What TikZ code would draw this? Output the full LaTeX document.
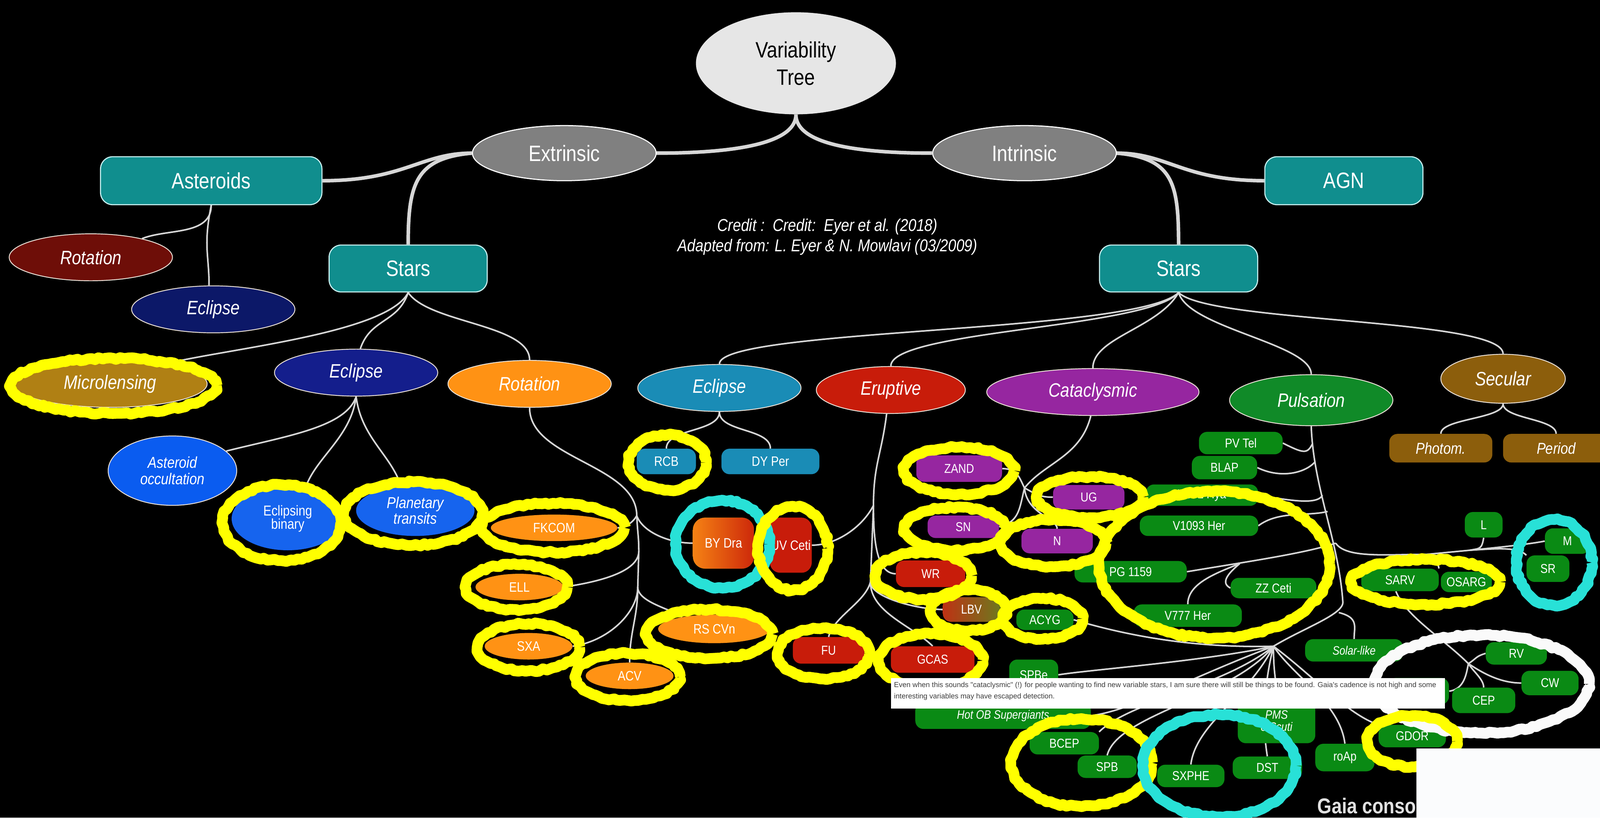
\documentclass[tikz,border=0pt]{standalone}
\usepackage{fontspec}
\setmainfont{Liberation Sans}[FakeStretch=0.85]
\newfontfamily\notefont{Liberation Sans}
\usepackage{tikz}
\usetikzlibrary{shapes.geometric, decorations.pathmorphing, backgrounds}
\definecolor{rootgray}{RGB}{230,230,230}
\definecolor{classgray}{RGB}{128,128,128}
\definecolor{groupteal}{RGB}{16,142,142}
\definecolor{groupedge}{RGB}{200,240,240}
\definecolor{linkgray}{RGB}{215,215,215}
\definecolor{typeedge}{RGB}{235,225,215}
\definecolor{astred}{RGB}{110,14,8}
\definecolor{astnavy}{RGB}{12,24,104}
\definecolor{microgold}{RGB}{176,128,20}
\definecolor{eclnavy}{RGB}{20,30,140}
\definecolor{rotorange}{RGB}{255,146,20}
\definecolor{occblue}{RGB}{10,92,240}
\definecolor{transblue}{RGB}{22,100,238}
\definecolor{ieclblue}{RGB}{26,140,182}
\definecolor{erupred}{RGB}{200,28,10}
\definecolor{catpurple}{RGB}{150,38,160}
\definecolor{pulsgreen}{RGB}{16,138,40}
\definecolor{secbrown}{RGB}{140,94,12}
\definecolor{leafgreen}{RGB}{10,138,20}
\definecolor{ringyellow}{RGB}{255,255,0}
\definecolor{ringcyan}{RGB}{40,225,215}
\definecolor{ringwhite}{RGB}{250,250,250}
\definecolor{bydraL}{RGB}{245,130,20}
\definecolor{bydraR}{RGB}{205,40,10}
\definecolor{lbvL}{RGB}{190,50,20}
\definecolor{lbvR}{RGB}{110,120,30}
\definecolor{notegray}{RGB}{60,60,60}
\definecolor{gaiagray}{RGB}{225,225,225}
\definecolor{cornerwhite}{RGB}{251,252,253}

\begin{document}
\begin{tikzpicture}[x=0.5mm, y=-0.5mm,
    link/.style={draw=linkgray, line width=2.2pt},
    mainlink/.style={draw=linkgray, line width=5pt},
    rootnode/.style={ellipse, fill=rootgray, text=black, inner sep=0pt, minimum width=98mm, minimum height=50mm, align=center, font=\fontsize{31}{38}\selectfont},
    classnode/.style={ellipse, fill=classgray, draw=white, line width=1.5pt, text=white, inner sep=0pt, minimum width=90mm, minimum height=27mm, font=\fontsize{31}{34}\selectfont},
    groupbox/.style={rectangle, rounded corners=6mm, fill=groupteal, draw=groupedge, line width=1.5pt, text=white, inner sep=0pt, minimum height=23.5mm, font=\fontsize{31}{34}\selectfont},
    typenode/.style={ellipse, draw=typeedge, line width=1.2pt, text=white, inner sep=0pt, minimum width=80mm, minimum height=23mm, font=\itshape\fontsize{27}{30}\selectfont},
    leafbox/.style={rectangle, rounded corners=4mm, fill=leafgreen, text=white, inner sep=0pt, minimum width=30mm, minimum height=11mm, font=\fontsize{18}{20}\selectfont},
    leafoval/.style={ellipse, fill=rotorange, text=white, inner sep=0pt, minimum height=13mm, font=\fontsize{19}{21}\selectfont},
    yring/.style={draw=ringyellow, line width=15pt, line join=round, decorate, decoration={random steps, segment length=5pt, amplitude=1.5pt}},
    cring/.style={yring, draw=ringcyan},
    wring/.style={yring, draw=ringwhite},
    creditnote/.style={text=white, align=center, font=\itshape\fontsize{24}{28.5}\selectfont},
]
    \useasboundingbox (0,0) rectangle (1568,801);
    \clip (0,0) rectangle (1568,801);

    % top of the tree
    \node[rootnode] (root) at (780,62) {Variability\\Tree};
    \node[classnode] (extr) at (553,150) {Extrinsic};
    \node[classnode] (intr) at (1004,150) {Intrinsic};
    \node[groupbox, minimum width=108.5mm] (aster) at (207,177) {Asteroids};
    \node[groupbox, minimum width=77.5mm] (agn) at (1317,177) {AGN};
    \node[groupbox, minimum width=77.5mm, minimum height=23mm] (starsE) at (400,263) {Stars};
    \node[groupbox, minimum width=77.5mm, minimum height=23mm] (starsI) at (1155,263) {Stars};
    \node[creditnote] (credit) at (811,232) {Credit :\ \ Credit:\ \ Eyer et al. (2018)\\Adapted from: L. Eyer \& N. Mowlavi (03/2009)};

    % asteroids
    \node[typenode, fill=astred] (astRot) at (89,252) {Rotation};
    \node[typenode, fill=astnavy] (astEcl) at (209,303) {Eclipse};

    % extrinsic stars
    \node[typenode, fill=microgold, minimum width=95mm] (micro) at (108,376) {Microlensing};
    \node[typenode, fill=eclnavy] (eclE) at (349,365) {Eclipse};
    \node[typenode, fill=rotorange] (rotE) at (519,376) {Rotation};
    \node[typenode, fill=occblue, minimum width=63mm, minimum height=34mm, align=center, font=\itshape\fontsize{22}{23}\selectfont] (occult) at (169,461) {Asteroid\\occultation};
    \node[typenode, fill=transblue, draw=none, minimum width=55mm, minimum height=31mm, align=center, font=\fontsize{20}{19}\selectfont] (ebin) at (282,508) {Eclipsing\\binary};
    \node[typenode, fill=transblue, draw=none, minimum width=58mm, minimum height=25mm, align=center, font=\itshape\fontsize{22}{20}\selectfont] (ptrans) at (407,500) {Planetary\\transits};
    \node[leafoval, minimum width=62mm] (fkcom) at (543,517) {FKCOM};
    \node[leafoval, minimum width=43mm] (ell) at (509,575) {ELL};
    \node[leafoval, minimum width=43mm] (sxa) at (518,633) {SXA};
    \node[leafoval, minimum width=43mm] (acv) at (617,662) {ACV};
    \node[leafoval, minimum width=55mm, minimum height=14mm] (rscvn) at (700,616) {RS CVn};
    \node[leafbox, rounded corners=6mm, left color=bydraL, right color=bydraR, minimum width=30mm, minimum height=25mm, font=\fontsize{19}{21}\selectfont] (bydra) at (709,532) {BY Dra};

    % intrinsic stars
    \node[typenode, fill=ieclblue] (eclI) at (705,380) {Eclipse};
    \node[typenode, fill=erupred, minimum width=73mm] (erupt) at (873,382) {Eruptive};
    \node[typenode, fill=catpurple, minimum width=104mm] (catac) at (1071,384) {Cataclysmic};
    \node[typenode, fill=pulsgreen, minimum width=80mm, minimum height=25mm] (puls) at (1285,392) {Pulsation};
    \node[typenode, fill=secbrown, minimum width=61mm, minimum height=24mm] (secul) at (1473,371) {Secular};

    \node[leafbox, fill=ieclblue, minimum width=29mm, minimum height=12.5mm, font=\fontsize{19}{21}\selectfont] (rcb) at (653,452) {RCB};
    \node[leafbox, fill=ieclblue, minimum width=48mm, minimum height=12.5mm, font=\fontsize{19}{21}\selectfont] (dyper) at (755,452) {DY Per};

    \node[leafbox, fill=erupred, rounded corners=5mm, minimum width=20.5mm, minimum height=27mm, font=\fontsize{19}{21}\selectfont] (uvceti) at (775,534) {UV Ceti};
    \node[leafbox, fill=erupred, minimum width=35mm, minimum height=13mm] (fu) at (812,637) {FU};
    \node[leafbox, fill=erupred, minimum width=41mm, minimum height=13mm] (gcas) at (914,646) {GCAS};
    \node[leafbox, fill=erupred, minimum width=34mm, minimum height=13mm] (wr) at (912,562) {WR};
    \node[leafbox, left color=lbvL, right color=lbvR, minimum width=28mm, minimum height=12mm] (lbv) at (952,597) {LBV};

    \node[leafbox, fill=catpurple, minimum width=42mm, minimum height=13mm] (zand) at (940,459) {ZAND};
    \node[leafbox, fill=catpurple, minimum width=35mm, minimum height=11mm] (sn) at (944,516) {SN};
    \node[leafbox, fill=catpurple, minimum width=35mm, minimum height=12mm] (ug) at (1067,487) {UG};
    \node[leafbox, fill=catpurple, minimum width=35mm, minimum height=12mm] (nova) at (1036,530) {N};

    % pulsating stars
    \node[leafbox, minimum width=41mm] (pvtel) at (1216,434) {PV Tel};
    \node[leafbox, minimum width=32mm, minimum height=11.5mm] (blap) at (1200,458) {BLAP};
    \node[leafbox, minimum width=55mm, minimum height=10.5mm] (v361) at (1178,485) {V361 Hya};
    \node[leafbox, minimum width=58mm, minimum height=10mm] (v1093) at (1175,515) {V1093 Her};
    \node[leafbox, minimum width=55mm, minimum height=10.5mm] (pg1159) at (1108,560) {PG 1159};
    \node[leafbox, minimum width=42mm, minimum height=10mm] (zzceti) at (1248,576) {ZZ Ceti};
    \node[leafbox, minimum width=53mm] (v777) at (1164,603) {V777 Her};
    \node[leafbox, minimum width=28mm, minimum height=10mm] (acyg) at (1024,607) {ACYG};
    \node[leafbox, minimum width=24mm, minimum height=15mm] (spbe) at (1013,661) {SPBe};
    \node[leafbox, minimum width=86mm, minimum height=13mm, font=\itshape\fontsize{17}{19}\selectfont] (hotob) at (983,701) {Hot OB Supergiants};
    \node[leafbox, minimum width=34mm] (bcep) at (1043,728) {BCEP};
    \node[leafbox, minimum width=29mm] (spb) at (1085,751) {SPB};
    \node[leafbox, minimum width=33mm] (sxphe) at (1167,760) {SXPHE};
    \node[leafbox, minimum width=34mm] (dst) at (1242,752) {DST};
    \node[leafbox, minimum width=38mm, minimum height=22mm, align=center, font=\itshape\fontsize{17}{17}\selectfont] (pms) at (1251,706) {PMS\\δ Scuti};
    \node[leafbox, minimum width=29mm, minimum height=13.5mm] (roap) at (1318,742) {roAp};
    \node[leafbox, minimum width=33mm] (gdor) at (1384,721) {GDOR};
    \node[leafbox, minimum width=48mm, font=\itshape\fontsize{17}{19}\selectfont] (solar) at (1327,637) {Solar-like};
    \node[leafbox, minimum width=30mm] (rv) at (1486,640) {RV};
    \node[leafbox, minimum width=28mm, minimum height=12mm] (cw) at (1519,669) {CW};
    \node[leafbox, minimum width=31mm, minimum height=12.5mm] (cep) at (1454,686) {CEP};
    \node[leafbox, minimum width=30mm, minimum height=13mm] (acep) at (1390,677) {};
    \node[leafbox, minimum width=38mm] (sarv) at (1372,568) {SARV};
    \node[leafbox, minimum width=25mm, minimum height=10mm] (osarg) at (1437,570) {OSARG};
    \node[leafbox, minimum width=18.5mm, minimum height=12.5mm] (lvar) at (1454,514) {L};
    \node[leafbox, minimum width=22mm, minimum height=12.5mm] (mira) at (1536,530) {M};
    \node[leafbox, minimum width=21mm, minimum height=13mm] (srvar) at (1517,557) {SR};

    % secular
    \node[leafbox, fill=secbrown, minimum width=50.5mm, minimum height=14mm, font=\itshape\fontsize{22}{24}\selectfont] (photom) at (1412,439) {Photom.};
    \node[leafbox, fill=secbrown, minimum width=52mm, minimum height=14mm, font=\itshape\fontsize{22}{24}\selectfont] (period) at (1525,439) {Period};

    % junctions
    \coordinate (rotJ) at (624,505);
    \coordinate (rotK) at (626,540);
    \coordinate (rotL) at (625,575);
    \coordinate (eruJ) at (856,495);
    \coordinate (eruK) at (853,570);
    \coordinate (catJ) at (1004,478);
    \coordinate (pA) at (1286,435);
    \coordinate (pB) at (1289,452);
    \coordinate (pC) at (1296,485);
    \coordinate (pD) at (1301,501);
    \coordinate (pE) at (1309,532);
    \coordinate (pF) at (1316,590);
    \coordinate (pG) at (1312,600);
    \coordinate (hub) at (1248,633);
    \coordinate (pgJ) at (1215,552);
    \coordinate (sJ) at (1398,543);
    \coordinate (lJ) at (1440,539);
    \coordinate (rvJ) at (1439,650);

    \begin{scope}[on background layer]
        \fill[black] (0,0) rectangle (1568,801);
        % main branches
        \draw[mainlink] (root.south) .. controls +(0,30) and +(70,0) .. (extr.east);
        \draw[mainlink] (root.south) .. controls +(0,30) and +(-70,0) .. (intr.west);
        \draw[mainlink] (extr.west) .. controls +(-50,0) and +(80,0) .. (aster.east);
        \draw[mainlink] (extr.west) .. controls +(-55,5) and +(0,-60) .. (starsE.north);
        \draw[mainlink] (intr.east) .. controls +(50,0) and +(-80,0) .. (agn.west);
        \draw[mainlink] (intr.east) .. controls +(55,5) and +(0,-60) .. (starsI.north);

        % asteroids and extrinsic stars
        \draw[link] (aster.south) .. controls +(0,30) and +(25,-10) .. (astRot.20);
        \draw[link] (aster.south) .. controls +(-8,40) and +(0,-30) .. (astEcl.100);
        \draw[link] (starsE.south) .. controls +(-20,40) and +(60,-15) .. (micro.20);
        \draw[link] (starsE.south) .. controls +(-10,30) and +(10,-30) .. (eclE.80);
        \draw[link] (starsE.south) .. controls +(20,30) and +(0,-35) .. (rotE.north);
        \draw[link] (eclE.south) .. controls +(-10,30) and +(60,-15) .. (occult.20);
        \draw[link] (eclE.south) .. controls +(-5,40) and +(10,-30) .. (ebin.60);
        \draw[link] (eclE.south) .. controls +(5,40) and +(-10,-30) .. (ptrans.120);
        \draw[link] (rotE.south) .. controls +(0,50) and +(0,-50) .. (rotJ) .. controls +(1,20) and +(0,-15) .. (rotK) -- (rotL) .. controls +(0,30) and +(0,-30) .. (acv.north);
        \draw[link] (rotJ) .. controls +(-3,6) and +(8,0) .. (fkcom.east);
        \draw[link] (rotJ) .. controls +(5,15) and +(-25,0) .. (bydra.west);
        \draw[link] (rotK) .. controls +(0,20) and +(35,-5) .. (ell.east);
        \draw[link] (rotL) .. controls +(0,25) and +(35,-5) .. (sxa.east);
        \draw[link] (rotL) .. controls +(0,15) and +(-10,-8) .. (rscvn.160);

        % intrinsic stars
        \draw[link] (starsI.south) .. controls +(-40,40) and +(0,-35) .. (eclI.north);
        \draw[link] (starsI.south) .. controls +(-30,35) and +(0,-35) .. (erupt.north);
        \draw[link] (starsI.south) .. controls +(-20,35) and +(0,-30) .. (catac.north);
        \draw[link] (starsI.south) .. controls +(10,35) and +(0,-30) .. (puls.north);
        \draw[link] (starsI.south) .. controls +(30,30) and +(0,-35) .. (secul.north);
        \draw[link] (eclI.south) .. controls +(0,20) and +(0,-20) .. (rcb.north);
        \draw[link] (eclI.south) .. controls +(0,20) and +(0,-20) .. (dyper.north);
        \draw[link] (erupt.260) .. controls +(-5,40) and +(0,-40) .. (eruJ) -- (eruK) .. controls +(0,30) and +(-20,-20) .. (gcas.north);
        \draw[link] (eruJ) .. controls +(-10,20) and +(25,0) .. (uvceti.east);
        \draw[link] (eruK) .. controls +(-5,20) and +(5,-20) .. (fu.north);
        \draw[link] (eruJ) .. controls +(0,30) and +(-20,0) .. (wr.west);
        \draw[link] (eruK) .. controls +(0,15) and +(-25,0) .. (lbv.west);
        \draw[link] (catac.265) .. controls +(-10,40) and +(20,-25) .. (catJ);
        \draw[link] (catJ) .. controls +(-5,-10) and +(15,0) .. (zand.east);
        \draw[link] (catJ) .. controls +(-5,20) and +(20,-5) .. (sn.east);
        \draw[link] (catJ) .. controls +(10,5) and +(-15,0) .. (ug.west);
        \draw[link] (catJ) .. controls +(2,25) and +(0,-10) .. (nova.north);

        % pulsation trunk and branches
        \draw[link] (puls.south) .. controls +(2,60) and +(-4,-60) .. (pF) .. controls +(0,12) and +(30,-18) .. (hub);
        \draw[link] (pvtel.east) .. controls +(20,10) and +(-5,10) .. (pA);
        \draw[link] (blap.east) .. controls +(25,12) and +(-8,10) .. (pB);
        \draw[link] (v361.east) .. controls +(30,5) and +(-5,10) .. (pC);
        \draw[link] (v1093.east) .. controls +(20,-15) and +(-20,5) .. (pD);
        \draw[link] (pg1159.east) .. controls +(60,-10) and +(-30,10) .. (pE);
        \draw[link] (pgJ) .. controls +(-12,10) and +(-10,-5) .. (zzceti.west);
        \draw[link] (pgJ) .. controls +(-25,10) and +(0,-20) .. (v777.north);
        \draw[link] (pE) .. controls +(10,15) and +(-40,0) .. (sJ) -- (lJ) .. controls +(30,-3) and +(-15,3) .. (mira.west);
        \draw[link] (lvar.south) .. controls +(-2,12) and +(10,-2) .. (lJ);
        \draw[link] (sJ) .. controls +(5,5) and +(0,-5) .. (sarv.north east);
        \draw[link] (lJ) .. controls +(30,-2) and +(-8,-8) .. (srvar.north west);
        \draw[link] (pG) .. controls +(20,5) and +(0,-12) .. (solar.north);
        \draw[link] (sarv.250) .. controls +(10,25) and +(-25,-25) .. (rvJ);
        \draw[link] (rvJ) .. controls +(8,-5) and +(-10,3) .. (rv.west);
        \draw[link] (rvJ) .. controls +(15,10) and +(-20,0) .. (cw.west);
        \draw[link] (rvJ) .. controls +(5,8) and +(0,-8) .. (cep.north);
        \draw[link] (rvJ) .. controls +(-2,10) and +(15,-2) .. (acep.east);
        \draw[link] (hub) .. controls +(-80,2) and +(50,15) .. (acyg.east);
        \draw[link] (hub) .. controls +(-70,15) and +(30,-5) .. (spbe.east);
        \draw[link] (hub) .. controls +(-80,30) and +(40,-5) .. (hotob.east);
        \draw[link] (hub) .. controls +(-50,40) and +(30,-30) .. (bcep.north east);
        \draw[link] (hub) .. controls +(-40,50) and +(10,-40) .. (spb.north);
        \draw[link] (hub) .. controls +(-25,50) and +(5,-40) .. (sxphe.north);
        \draw[link] (hub) .. controls +(-10,40) and +(-5,-30) .. (dst.north);
        \draw[link] (hub) .. controls +(0,30) and +(0,-20) .. (pms.north);
        \draw[link] (hub) .. controls +(20,30) and +(-5,-40) .. (roap.north);
        \draw[link] (hub) .. controls +(40,30) and +(-30,-10) .. (gdor.north west);
        \draw[link] (secul.south) .. controls +(0,15) and +(0,-15) .. (photom.north);
        \draw[link] (secul.south) .. controls +(0,15) and +(0,-15) .. (period.north);
    \end{scope}

    % hand-drawn highlights
    \draw[yring] (111,378) ellipse (101 and 27);
    \draw[yring] (276,512) ellipse (58 and 37);
    \draw[yring] (405,503) ellipse (68 and 31);
    \draw[yring] (542,517) ellipse (70 and 24);
    \draw[yring] (506,575) ellipse (50 and 22);
    \draw[yring] (518,634) ellipse (50 and 23);
    \draw[yring] (615,663) ellipse (51 and 23);
    \draw[yring] (695,621) ellipse (62 and 24);
    \draw[yring] (654,453) ellipse (38 and 27);
    \draw[cring] (708,533) ellipse (46 and 43);
    \draw[yring] (777,537) ellipse (34 and 41);
    \draw[yring] (807,640) ellipse (45 and 25);
    \draw[yring] (912,647) ellipse (51 and 26);
    \draw[yring] (905,564) ellipse (47 and 23);
    \draw[yring] (949,598) ellipse (37 and 20);
    \draw[yring] (940,461) ellipse (54 and 23);
    \draw[yring] (936,518) ellipse (50 and 21);
    \draw[yring] (1068,487) ellipse (52 and 20);
    \draw[yring] (1032,532) ellipse (52 and 23);
    \draw[yring] (1022,606) ellipse (39 and 20);
    \draw[yring] (1190,553) ellipse (113 and 72);
    \draw[yring] (1397,570) ellipse (73 and 22);
    \draw[cring] (1523,551) ellipse (37 and 42);
    \draw[wring] (1452,670) ellipse (105 and 48);
    \draw[yring] (1384,726) ellipse (44 and 25);
    \draw[yring] (1060,747) ellipse (69 and 43);
    \draw[cring] (1195,750) ellipse (75 and 50);

    % pasted note and corner
    \node[rectangle, fill=white, inner sep=0pt, minimum width=271.5mm, minimum height=15mm, anchor=north west] (notebox) at (873,664) {};
    \node[anchor=north west, inner sep=0pt, align=left, text=notegray, font=\notefont\fontsize{10.1}{15.6}\selectfont] (note) at ([shift={(3,4)}]notebox.north west) {Even when this sounds "cataclysmic" (!) for people wanting to find new variable stars, I am sure there will still be things to be found. Gaia's cadence is not high and some\\interesting variables may have escaped detection.};
    \node[anchor=base west, inner sep=0pt, text=gaiagray, font=\bfseries\fontsize{30}{30}\selectfont] (gaia) at (1291,797) {Gaia consor};
    \fill[cornerwhite] (1388,733) rectangle (1568,801);
\end{tikzpicture}
\end{document}
